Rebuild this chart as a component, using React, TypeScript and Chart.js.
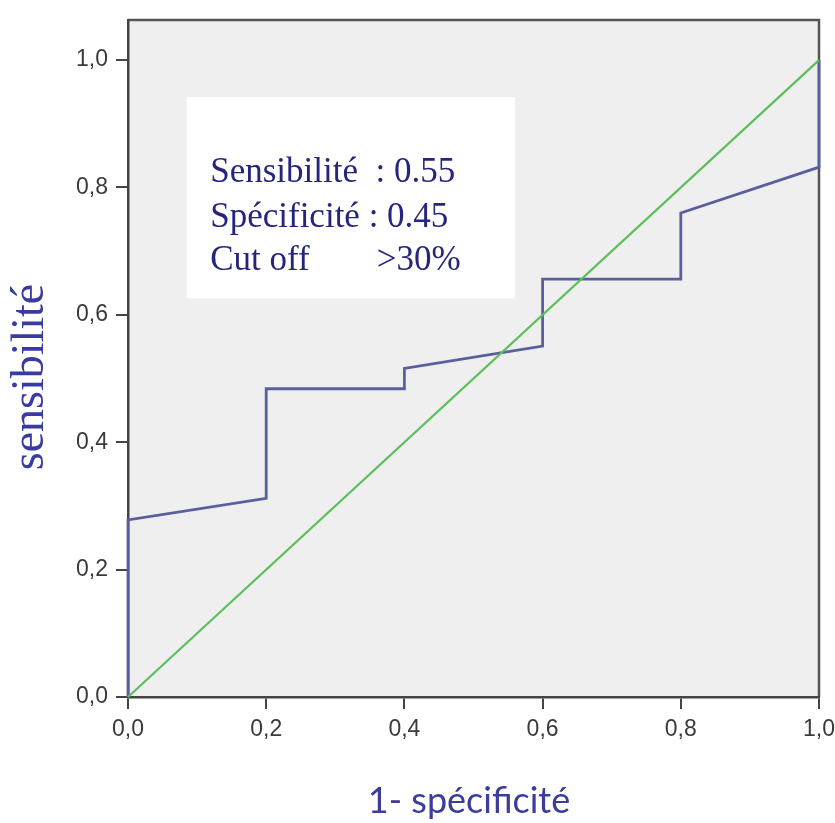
import React, { useEffect, useRef } from 'react';
import { Chart, registerables } from 'chart.js';

Chart.register(...registerables);

// ROC curve (1 - specificity, sensitivity)
const rocX = [0, 0, 0.2, 0.2, 0.4, 0.4, 0.6, 0.6, 0.8, 0.8, 1.0, 1.0];
const rocY = [0, 0.278, 0.312, 0.484, 0.484, 0.516, 0.551, 0.656, 0.656, 0.76, 0.832, 1.0];
// reference diagonal
const refX = [0, 1];
const refY = [0, 1];

const tickValues = [0, 0.2, 0.4, 0.6, 0.8, 1.0];
const tickLabels = ['0,0', '0,2', '0,4', '0,6', '0,8', '1,0'];

const xTitle = '1- spécificité';
const yTitle = 'sensibilité';
const noteLines = ['Sensibilité  : 0.55', 'Spécificité : 0.45', 'Cut off'];
const noteExtra = '>30%';

export default function App() {
  const ref = useRef<HTMLCanvasElement | null>(null);

  useEffect(() => {
    const canvas = ref.current;
    if (!canvas) return;

    const decor = {
      id: 'decor',
      beforeDraw(chart: any) {
        const { ctx, chartArea: a } = chart;
        ctx.save();
        ctx.fillStyle = '#efefef';
        ctx.fillRect(a.left, a.top, a.right - a.left, a.bottom - a.top);
        ctx.strokeStyle = '#555555';
        ctx.lineWidth = 2.5;
        ctx.beginPath();
        ctx.moveTo(a.left, a.top);
        ctx.lineTo(a.right, a.top);
        ctx.lineTo(a.right, a.bottom);
        ctx.stroke();
        ctx.restore();
      },
      afterDatasetsDraw(chart: any) {
        const { ctx, scales } = chart;
        const xs = scales.x;
        const ys = scales.y;
        ctx.save();
        // annotation box
        const bx0 = xs.getPixelForValue(0.085);
        const bx1 = xs.getPixelForValue(0.56);
        const by0 = ys.getPixelForValue(0.942);
        const by1 = ys.getPixelForValue(0.626);
        ctx.fillStyle = '#ffffff';
        ctx.fillRect(bx0, by0, bx1 - bx0, by1 - by0);
        ctx.fillStyle = '#25257d';
        ctx.font = '35px "Liberation Serif", "DejaVu Serif", serif';
        ctx.textAlign = 'left';
        ctx.textBaseline = 'alphabetic';
        const tx = xs.getPixelForValue(0.119);
        const baseVals = [0.808, 0.738, 0.67];
        noteLines.forEach((t, i) => {
          ctx.fillText(t, tx, ys.getPixelForValue(baseVals[i]));
        });
        ctx.fillText(noteExtra, xs.getPixelForValue(0.36), ys.getPixelForValue(baseVals[2]));

        // axis titles
        ctx.fillStyle = '#3a3aa4';
        ctx.font = '46px "Liberation Serif", "DejaVu Serif", serif';
        ctx.textAlign = 'center';
        ctx.translate(43, 377);
        ctx.rotate(-Math.PI / 2);
        ctx.fillText(yTitle, 0, 0);
        ctx.setTransform(1, 0, 0, 1, 0, 0);
        ctx.fillStyle = '#3c3c9c';
        ctx.font = '36px Lato, "Open Sans", sans-serif';
        ctx.textAlign = 'center';
        ctx.fillText(xTitle, 469, 813);
        ctx.restore();
      },
    };

    const chart = new Chart(canvas, {
      type: 'scatter',
      data: {
        datasets: [
          {
            data: refX.map((x, i) => ({ x, y: refY[i] })),
            showLine: true,
            borderColor: '#5cbf5c',
            borderWidth: 2.2,
            pointRadius: 0,
            tension: 0,
            clip: false as any,
          },
          {
            data: rocX.map((x, i) => ({ x, y: rocY[i] })),
            showLine: true,
            borderColor: '#5a5f9f',
            borderWidth: 2.8,
            pointRadius: 0,
            tension: 0,
            clip: false as any,
          },
        ],
      },
      options: {
        animation: false,
        responsive: false,
        layout: { padding: { top: 20, right: 16, left: 0, bottom: 0 } },
        plugins: { legend: { display: false }, tooltip: { enabled: false } },
        scales: {
          x: {
            type: 'linear',
            min: 0,
            max: 1,
            afterBuildTicks: (s: any) => {
              s.ticks = tickValues.map((v) => ({ value: v }));
            },
            afterFit: (s: any) => {
              s.height = 126;
              s.paddingLeft = 0;
              s.paddingRight = 0;
            },
            ticks: {
              callback: (_v: any, i: number) => tickLabels[i],
              color: '#3a3a3a',
              font: { family: '"Liberation Sans", Arial, sans-serif', size: 23 },
              padding: 7,
              maxRotation: 0,
              autoSkip: false,
            },
            grid: {
              drawOnChartArea: false,
              drawTicks: true,
              tickLength: 12,
              color: '#444444',
              lineWidth: 2,
            },
            border: { display: true, color: '#444444', width: 2.5 },
          },
          y: {
            type: 'linear',
            min: 0,
            max: 1.063,
            afterBuildTicks: (s: any) => {
              s.ticks = tickValues.map((v) => ({ value: v }));
            },
            afterFit: (s: any) => {
              s.width = 128;
              s.paddingTop = 0;
              s.paddingBottom = 0;
            },
            ticks: {
              callback: (_v: any, i: number) => tickLabels[i],
              color: '#3a3a3a',
              font: { family: '"Liberation Sans", Arial, sans-serif', size: 23 },
              padding: 8,
              autoSkip: false,
            },
            grid: {
              drawOnChartArea: false,
              drawTicks: true,
              tickLength: 12,
              color: '#444444',
              lineWidth: 2,
            },
            border: { display: true, color: '#444444', width: 2.5 },
          },
        },
      },
      plugins: [decor],
    });

    return () => chart.destroy();
  }, []);

  return (
    <div style={{ position: 'absolute', left: 0, top: 0, width: 835, height: 823, background: '#ffffff' }}>
      <canvas ref={ref} width={835} height={823} style={{ display: 'block' }} />
    </div>
  );
}
